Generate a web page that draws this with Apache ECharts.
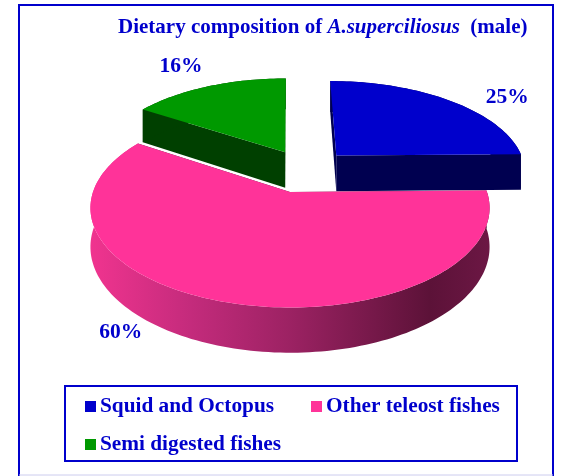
<!DOCTYPE html>
<html><head><meta charset="utf-8">
<style>html,body{margin:0;padding:0;background:#fff}#c{width:561px;height:476px}</style>
<script src="https://cdn.jsdelivr.net/npm/echarts@6/dist/echarts.min.js"></script>
</head><body><div id="c"></div>
<script>
const categories = ['Squid and Octopus', 'Other teleost fishes', 'Semi digested fishes'];
const values = [25, 60, 16];
const topColors = ['#0000cc', '#ff3399', '#009900'];
const wallColors = ['#000050', '#5c1238', '#004000'];

const total = values.reduce((a, b) => a + b, 0);
const BLUE = '#0000cc', SERIF = '"Liberation Serif", serif';
// projection of the pie plane: perspective circle with a vertical extrusion
const P = {x0: 290, y0: 192, A: 197, B: 97, k: 0.16, D: 38};
const explode = [[0.25, 0.40], [0, 0], [-0.026, 0.44]];
const labelShift = [[58, -3], [-105, 30], [-27, -20]];

function project(u, v, h) {
  const s = 1 / (1 + P.k * v);
  return [P.x0 + P.A * u * s, P.y0 - P.B * v * s + (h ? P.D * s : 0)];
}
function renderSlice(idx) {
  return function (params, api) {
    const val = api.value(0);
    const before = values.slice(0, idx).reduce((a, b) => a + b, 0);
    const a0 = before / total * 2 * Math.PI, a1 = (before + val) / total * 2 * Math.PI;
    const [du, dv] = explode[idx];
    const pt = (a, r, h) => project(du + r * Math.sin(a), dv + r * Math.cos(a), h);
    const arc = [], arcLow = [];
    const n = Math.max(12, Math.round((a1 - a0) * 40));
    for (let i = 0; i <= n; i++) {
      const a = a0 + (a1 - a0) * i / n;
      arc.push(pt(a, 1, false));
      arcLow.push(pt(a, 1, true));
    }
    const tip = pt(0, 0, false), tipLow = pt(0, 0, true);
    const wallFill = idx === 1
      ? new echarts.graphic.LinearGradient(0, 0, 1, 0, [
          {offset: 0, color: '#f0348f'}, {offset: 0.25, color: '#c42b7c'},
          {offset: 0.5, color: '#9c2263'}, {offset: 0.85, color: '#5c1238'}, {offset: 1, color: '#6c1744'}])
      : wallColors[idx];
    const mid = (a0 + a1) / 2;
    const rim = pt(mid, 1, false);
    const base = -Math.cos(mid) * 10;
    return {type: 'group', children: [
      {type: 'polygon', z2: base, shape: {points: [tip, arc[0], arcLow[0], tipLow]}, style: {fill: wallColors[idx]}},
      {type: 'polygon', z2: base, shape: {points: [tip, arc[n], arcLow[n], tipLow]}, style: {fill: wallColors[idx]}},
      {type: 'polygon', z2: base + 1, shape: {points: arc.concat(arcLow.slice().reverse())}, style: {fill: wallFill}},
      {type: 'polygon', z2: base + 2, shape: {points: [tip].concat(arc)}, style: {fill: topColors[idx]}},
      {type: 'text', z2: 30, style: {
        x: rim[0] + labelShift[idx][0], y: rim[1] + labelShift[idx][1], text: val + '%',
        fill: BLUE, font: 'bold 21.5px ' + SERIF, align: 'center', verticalAlign: 'middle'}}
    ]};
  };
}

const chart = echarts.init(document.getElementById('c'), null, {renderer: 'canvas'});
chart.setOption({
  animation: false,
  backgroundColor: '#fff',
  title: {
    left: 113, top: 12,
    text: 'Dietary composition of {i|A.superciliosus}  (male)',
    textStyle: {
      color: BLUE, fontFamily: SERIF, fontWeight: 'bold', fontSize: 21,
      rich: {i: {color: BLUE, fontFamily: SERIF, fontWeight: 'bold', fontStyle: 'italic', fontSize: 21}}
    }
  },
  legend: {
    left: 85, top: 396, width: 470, padding: 0,
    icon: 'rect', itemWidth: 11, itemHeight: 11, itemGap: 17,
    data: categories,
    selectedMode: false,
    textStyle: {color: BLUE, fontFamily: SERIF, fontWeight: 'bold', fontSize: 21.3,
      width: 194, height: 21, lineHeight: 21, padding: [0, 0, 0, -1]}
  },
  graphic: [
    {type: 'polyline', silent: true, shape: {points: [[19, 476], [19, 5], [553, 5], [553, 476]]},
      style: {stroke: BLUE, lineWidth: 2, fill: null}},
    {type: 'line', silent: true, shape: {x1: 19, y1: 475, x2: 553, y2: 475}, style: {stroke: '#ccccee', lineWidth: 1}},
    {type: 'rect', silent: true, shape: {x: 65, y: 386, width: 452, height: 75},
      style: {stroke: BLUE, lineWidth: 2, fill: null}}
  ],
  series: categories.map((name, i) => ({
    type: 'custom', name, coordinateSystem: 'none',
    itemStyle: {color: topColors[i]},
    data: [values[i]],
    renderItem: renderSlice(i),
    silent: true
  }))
});
</script></body></html>
